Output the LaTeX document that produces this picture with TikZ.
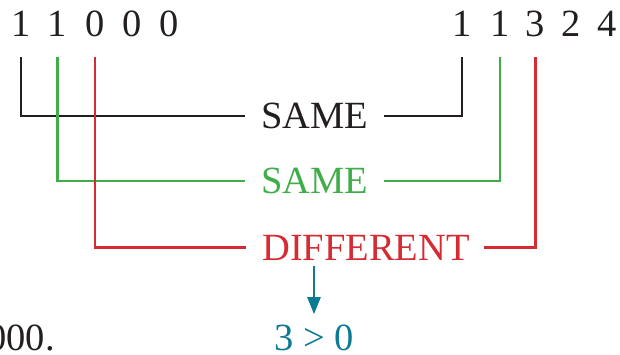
\documentclass[tikz,border=0pt]{standalone}
\usepackage{fontspec}
\setmainfont{Liberation Serif}
\usetikzlibrary{arrows.meta}

\definecolor{inkblack}{HTML}{231F20}
\definecolor{inkgreen}{HTML}{3FAE49}
\definecolor{inkred}{HTML}{D52B32}
\definecolor{inkteal}{HTML}{0D7A94}

\tikzset{
  digit/.style={anchor=base, inner sep=0pt, font=\fontsize{38.5}{42}\selectfont, text=inkblack},
  verdict/.style={anchor=west, inner ysep=0pt, inner xsep=16pt, font=\fontsize{38.5}{42}\selectfont},
  link/.style={line width=2.4pt},
  result/.style={anchor=base, inner sep=0pt, font=\fontsize{38.5}{42}\selectfont},
}

\begin{document}
\begin{tikzpicture}[x=1pt, y=-1pt]
  \useasboundingbox (0,0) rectangle (620,354);

  % first number
  \node[digit] (l1) at (20.7,36.5) {1};
  \node[digit] (l2) at (57.5,36.5) {1};
  \node[digit] (l3) at (95,36.5) {0};
  \node[digit] (l4) at (132,36.5) {0};
  \node[digit] (l5) at (169,36.5) {0};

  % second number
  \node[digit] (r1) at (462,36.5) {1};
  \node[digit] (r2) at (500,36.5) {1};
  \node[digit] (r3) at (535.5,36.5) {3};
  \node[digit] (r4) at (571,36.5) {2};
  \node[digit] (r5) at (607,36.5) {4};

  % digit-by-digit comparison labels
  \node[verdict, text=inkblack] (same1) at (245,116) {SAME};
  \node[verdict, text=inkgreen] (same2) at (245,181) {SAME};
  \node[verdict, text=inkred]   (diff)  at (246,247.5) {DIFFERENT};

  % brackets joining matching positions
  \draw[link, draw=inkblack] ([yshift=-20.5pt]l1.base) |- (same1.west);
  \draw[link, draw=inkblack] (same1.east) -| ([yshift=-20.5pt]r1.base);
  \draw[link, draw=inkgreen] ([yshift=-20.5pt]l2.base) |- (same2.west);
  \draw[link, draw=inkgreen] (same2.east) -| ([yshift=-20.5pt]r2.base);
  \draw[link, draw=inkred]   ([yshift=-20.5pt]l3.base) |- (diff.west);
  \draw[link, draw=inkred]   ([xshift=-2pt]diff.east) -| ([yshift=-20.5pt]r3.base);

  % conclusion
  \node[result, text=inkteal] (res) at (314,350) {3 > 0};
  \node[result, anchor=base east, text=inkblack] (tail) at (55,350) {000.};
  \draw[link, draw=inkteal, -{Triangle[width=13pt,length=17pt]}]
    ([yshift=-6pt]res.north |- diff.south) -- ([yshift=10pt]res.north);
\end{tikzpicture}
\end{document}
